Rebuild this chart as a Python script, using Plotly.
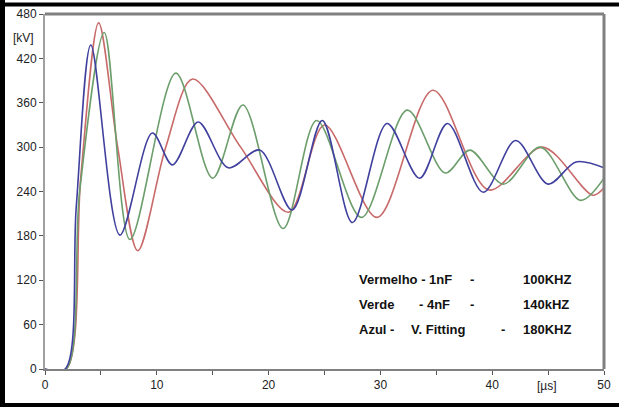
import plotly.graph_objects as go

# ---- data (time in µs, voltage in kV) ----
red_t = [0, 1.9, 3.2, 4.8, 6.5, 8.3, 10.8, 13.2, 17.5, 21.8, 25.0, 29.7, 34.7, 39.7, 44.5, 49.0, 50]
red_v = [0, 0, 260, 468, 300, 160, 300, 392, 300, 212, 330, 205, 377, 242, 300, 235, 245]

green_t = [0, 1.9, 3.1, 5.3, 7.6, 11.7, 15.0, 17.7, 21.3, 24.3, 28.3, 32.4, 35.8, 38.0, 41.0, 44.3, 47.9, 50]
green_v = [0, 0, 240, 455, 175, 400, 258, 357, 190, 336, 205, 350, 265, 296, 250, 300, 228, 258]

blue_t = [0, 1.8, 2.8, 4.1, 6.7, 9.6, 11.4, 13.7, 16.4, 19.2, 22.1, 24.8, 27.5, 30.6, 33.5, 36.0, 39.2, 42.1, 45.0, 47.5, 50]
blue_v = [0, 0, 220, 438, 181, 319, 276, 334, 272, 296, 215, 336, 198, 332, 258, 332, 239, 309, 250, 280, 272]

x_ticks = [0, 10, 20, 30, 40, 50]
x_tick_text = ["0", "10", "20", "30", "40", "50"]
y_ticks = [0, 60, 120, 180, 240, 300, 360, 420, 480]

legend_left = ["Vermelho - 1nF", "Verde", "Azul -"]
legend_mid = ["", "- 4nF", "V. Fitting"]
legend_freqs = ["100KHZ", "140kHZ", "180KHZ"]

W, H = 619, 407
L, R, T, B = 45, 15, 14, 38

fig = go.Figure()
for t, v, col, name in [(red_t, red_v, "#c86a6a", "Vermelho"),
                        (green_t, green_v, "#6c9e6c", "Verde"),
                        (blue_t, blue_v, "#40409e", "Azul")]:
    fig.add_trace(go.Scatter(x=t, y=v, mode="lines", name=name, hoverinfo="skip",
                             line=dict(color=col, width=1.6, shape="spline", smoothing=0.9)))

fig.update_layout(
    width=W, height=H,
    margin=dict(l=L, r=R, t=T, b=B, autoexpand=False),
    paper_bgcolor="white", plot_bgcolor="white",
    showlegend=False,
    font=dict(family="Liberation Sans, Arial, sans-serif", size=12, color="#222222"),
)
fig.update_xaxes(range=[0, 50], tickvals=x_ticks, ticktext=x_tick_text, automargin=False,
                 showgrid=False, zeroline=False, showline=True, linecolor="#808080",
                 linewidth=2, ticks="outside", ticklen=4, tickcolor="#555555",
                 minor=dict(tickvals=[5, 15, 25, 35, 45], ticks="outside", ticklen=4, tickcolor="#555555"))
fig.update_yaxes(range=[0, 480], tickvals=y_ticks, automargin=False,
                 showgrid=False, zeroline=False, showline=True, linecolor="#a0a0a0",
                 linewidth=2, ticks="outside", ticklen=4, tickcolor="#555555")

# plot frame (top and right grey borders)
fig.add_shape(type="line", xref="paper", yref="paper", x0=0, x1=1, y0=1, y1=1,
              line=dict(color="#808080", width=3))
fig.add_shape(type="line", xref="paper", yref="paper", x0=1, x1=1, y0=0, y1=1,
              line=dict(color="#808080", width=3))

pw, ph = W - L - R, H - T - B
def px_to_paper_x(px):
    return (px - L) / pw
def py_to_paper_y(py):
    return (H - B - py) / ph

# outer black frame (top, left, bottom)
fig.add_shape(type="line", xref="paper", yref="paper",
              x0=px_to_paper_x(0), x1=px_to_paper_x(W), y0=py_to_paper_y(4.5), y1=py_to_paper_y(4.5),
              line=dict(color="black", width=4))
fig.add_shape(type="line", xref="paper", yref="paper",
              x0=px_to_paper_x(2.5), x1=px_to_paper_x(2.5), y0=py_to_paper_y(0), y1=py_to_paper_y(H),
              line=dict(color="black", width=5))
fig.add_shape(type="line", xref="paper", yref="paper",
              x0=px_to_paper_x(0), x1=px_to_paper_x(W), y0=py_to_paper_y(405), y1=py_to_paper_y(405),
              line=dict(color="black", width=4))

# axis unit labels
fig.add_annotation(xref="paper", yref="paper", x=px_to_paper_x(24), y=py_to_paper_y(38),
                   text="[kV]", showarrow=False, xanchor="center", yanchor="middle",
                   font=dict(size=12, color="#222222"))
fig.add_annotation(xref="paper", yref="paper", x=px_to_paper_x(547), y=py_to_paper_y(386),
                   text="[µs]", showarrow=False, xanchor="center", yanchor="middle",
                   font=dict(size=12, color="#222222"))

# legend text block
rows_y = [279, 304, 329]
mid_pos = [(452, "right"), (452, "right"), (409, "left")]
dash_x = [472, 472, 503]
lfont = dict(family="Liberation Sans, Arial, sans-serif", size=13, color="#111111")
for left, mid, freq, py, (mx, manchor), dx in zip(legend_left, legend_mid, legend_freqs,
                                                  rows_y, mid_pos, dash_x):
    fig.add_annotation(xref="paper", yref="paper", x=px_to_paper_x(357), y=py_to_paper_y(py),
                       text="<b>" + left + "</b>", showarrow=False,
                       xanchor="left", yanchor="middle", font=lfont)
    if mid:
        fig.add_annotation(xref="paper", yref="paper", x=px_to_paper_x(mx), y=py_to_paper_y(py),
                           text="<b>" + mid + "</b>", showarrow=False,
                           xanchor=manchor, yanchor="middle", font=lfont)
    fig.add_annotation(xref="paper", yref="paper", x=px_to_paper_x(dx), y=py_to_paper_y(py),
                       text="<b>-</b>", showarrow=False,
                       xanchor="center", yanchor="middle", font=lfont)
    fig.add_annotation(xref="paper", yref="paper", x=px_to_paper_x(521), y=py_to_paper_y(py),
                       text="<b>" + freq + "</b>", showarrow=False,
                       xanchor="left", yanchor="middle", font=lfont)

fig.write_html("out.html", config={"displayModeBar": False},
               post_script="document.body.style.margin='0';")
